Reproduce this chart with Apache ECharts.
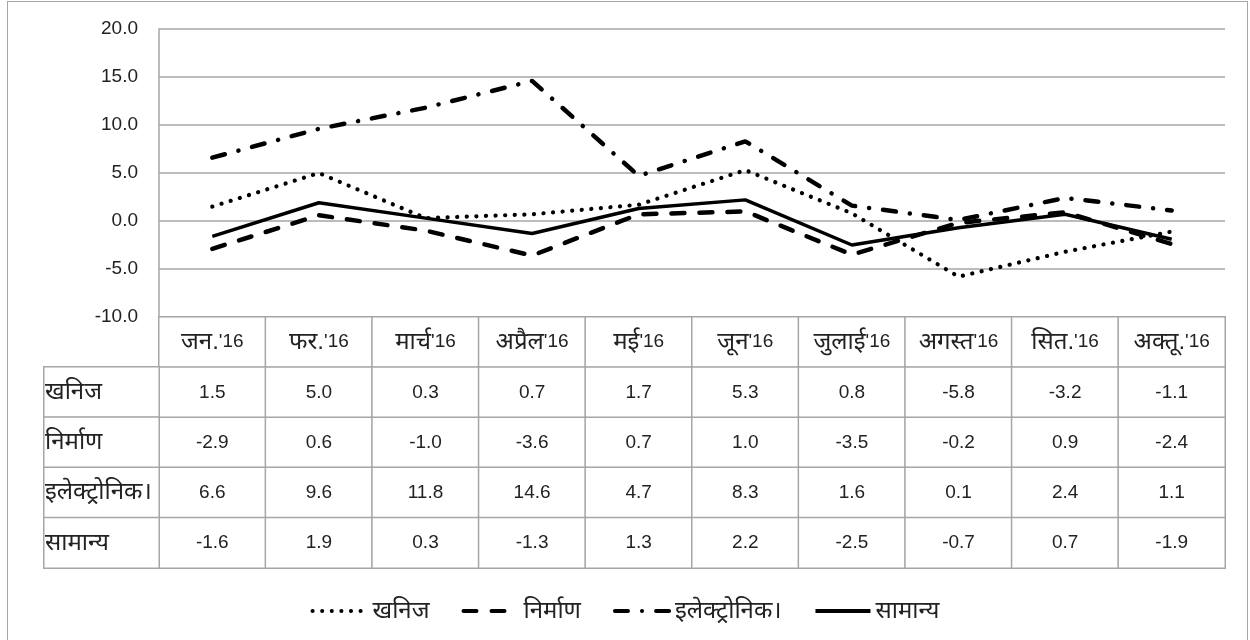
<!DOCTYPE html>
<html><head><meta charset="utf-8">
<script src="https://cdn.jsdelivr.net/npm/echarts@6/dist/echarts.min.js"></script>
<style>
html,body{margin:0;padding:0;background:#fff;}
#frame{position:absolute;left:7px;top:1px;width:1241px;height:660px;border:1.5px solid #a6a6a6;box-sizing:border-box;}
#chart{position:absolute;left:0;top:0;width:1250px;height:640px;}
</style></head><body>
<div id="frame"></div>
<div id="chart"></div>
<script>
const categories = ["जन.'16","फर.'16","मार्च'16","अप्रैल'16","मई'16","जून'16","जुलाई'16","अगस्त'16","सित.'16","अक्तू.'16"];
const seriesNames = ["खनिज","निर्माण","इलेक्ट्रोनिक।","सामान्य"];
const mining = [1.5,5.0,0.3,0.7,1.7,5.3,0.8,-5.8,-3.2,-1.1];
const manufacturing = [-2.9,0.6,-1.0,-3.6,0.7,1.0,-3.5,-0.2,0.9,-2.4];
const electronics = [6.6,9.6,11.8,14.6,4.7,8.3,1.6,0.1,2.4,1.1];
const general = [-1.6,1.9,0.3,-1.3,1.3,2.2,-2.5,-0.7,0.7,-1.9];
const yMin = -10, yMax = 20, yStep = 5;

const allValues = [mining, manufacturing, electronics, general];
const FONT = "'Liberation Sans', 'Noto Sans', sans-serif";
const TXT = '#222';
const GRAY = '#a6a6a6';
const NUM_SIZE = 19, DEV_SIZE = 24;

const tableData = [];
categories.forEach((c, i) => tableData.push([i, 0, 0]));
allValues.forEach((arr, r) => arr.forEach((v, i) => tableData.push([i, r + 1, v])));
const headerData = seriesNames.map((n, r) => [0, r, 0]);

function richCat(s) {
  const k = s.indexOf("'");
  return '{d|' + s.slice(0, k) + '}{n|' + s.slice(k) + '}';
}

const lineStyles = [
  {type: [0.1, 9.5], width: 4.2, cap: 'round', color: '#000'},
  {type: [13, 15], width: 4.5, cap: 'round', color: '#000'},
  {type: [13, 14, 0.1, 14], width: 4.5, cap: 'round', color: '#000'},
  {type: 'solid', width: 3.5, color: '#000'}
];

const chart = echarts.init(document.getElementById('chart'), null, {renderer: 'canvas'});
chart.setOption({
  animation: false,
  backgroundColor: 'transparent',
  textStyle: {fontFamily: FONT},
  grid: [
    {left: 159, top: 29, width: 1066, height: 288},
    {left: 159, top: 317, width: 1066, height: 251},
    {left: 44, top: 367, width: 115, height: 201}
  ],
  legend: {
    top: 594, left: 'center',
    itemWidth: 55, itemHeight: 22, itemGap: 32,
    itemStyle: {color: 'rgba(0,0,0,0)', borderWidth: 0},
    lineStyle: {width: 4},
    textStyle: {fontSize: DEV_SIZE, color: TXT, fontFamily: FONT},
    data: seriesNames
  },
  xAxis: [
    {gridIndex: 0, type: 'category', data: categories, boundaryGap: true,
     axisLine: {show: false}, axisTick: {show: false}, axisLabel: {show: false}, splitLine: {show: false}},
    {gridIndex: 1, type: 'category', data: categories, show: false},
    {gridIndex: 2, type: 'category', data: ['h'], show: false}
  ],
  yAxis: [
    {gridIndex: 0, type: 'value', min: yMin, max: yMax, interval: yStep,
     axisLine: {show: true, lineStyle: {color: GRAY, width: 1.5}},
     axisTick: {show: false},
     splitLine: {lineStyle: {color: GRAY, width: 1.5}},
     axisLabel: {formatter: v => v.toFixed(1), fontSize: NUM_SIZE, color: TXT, margin: 21, fontFamily: FONT}},
    {gridIndex: 1, type: 'category', data: ['head'].concat(seriesNames), inverse: true, show: false},
    {gridIndex: 2, type: 'category', data: seriesNames, inverse: true, show: false}
  ],
  series: [
    ...seriesNames.map((n, k) => ({
      name: n, type: 'line', xAxisIndex: 0, yAxisIndex: 0,
      data: allValues[k], symbol: 'none', lineStyle: lineStyles[k],
      itemStyle: {color: '#000'}, silent: true, z: 5
    })),
    {
      type: 'heatmap', xAxisIndex: 1, yAxisIndex: 1, data: tableData, silent: true,
      itemStyle: {color: '#fff', borderColor: GRAY, borderWidth: 1.5},
      emphasis: {disabled: true},
      label: {show: true, fontSize: NUM_SIZE, color: TXT, fontFamily: FONT,
        rich: {d: {fontSize: DEV_SIZE, color: TXT, fontFamily: FONT}, n: {fontSize: NUM_SIZE, color: TXT, fontFamily: FONT}},
        formatter: p => p.value[1] === 0 ? richCat(categories[p.value[0]]) : p.value[2].toFixed(1)}
    },
    {
      type: 'heatmap', xAxisIndex: 2, yAxisIndex: 2, data: headerData, silent: true,
      itemStyle: {color: '#fff', borderColor: GRAY, borderWidth: 1.5},
      emphasis: {disabled: true},
      label: {show: true, position: 'insideLeft', distance: 2, fontSize: DEV_SIZE, color: TXT, fontFamily: FONT,
        formatter: p => seriesNames[p.value[1]]}
    }
  ]
});
</script>
</body></html>
